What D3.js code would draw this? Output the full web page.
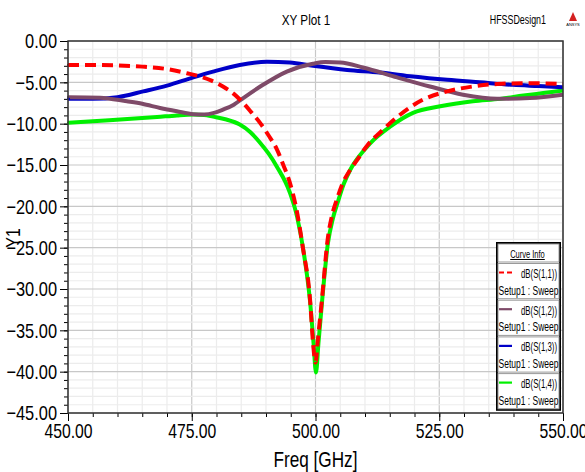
<!DOCTYPE html>
<html>
<head>
<meta charset="utf-8">
<script src="https://cdn.jsdelivr.net/npm/d3@7"></script>
<style>
  body { margin: 0; background: #fff; }
  #chart { width: 585px; height: 472px; }
  text { font-family: "Liberation Sans", Arial, sans-serif; }
</style>
</head>
<body>
<div id="chart"></div>
<script>
// frequencies (GHz) and dB values
const freq_s11 = [450, 455, 460, 465, 470, 474, 476.7, 479, 481.3, 483.5, 485.4, 487, 488.8, 490.5, 492.2, 493.5, 494.8, 496.2, 497.5, 498.9, 499.5, 500, 500.5, 501.3, 502.5, 503.3, 504.3, 505.5, 507, 508.4, 510.5, 513, 516.5, 521.7, 526.6, 531.8, 536.7, 543, 550];
const db_s11 = [-2.9, -2.9, -2.95, -3.1, -3.4, -3.9, -4.3, -4.8, -5.5, -6.4, -7.5, -8.6, -9.9, -11.4, -13.1, -15.0, -17.1, -20.5, -25.2, -31.3, -36.5, -38.9, -36, -31.3, -23.8, -21.2, -19.2, -17.2, -15.6, -14.4, -12.6, -11.1, -9.2, -7.1, -6.1, -5.5, -5.2, -5.1, -5.2];

const freq_s12 = [450, 456.5, 461.9, 465, 468.6, 472, 475.3, 477.5, 479.5, 481.3, 483.5, 485.4, 489.4, 494.2, 499.5, 502, 505, 509.6, 516.5, 523.1, 529.8, 536.7, 543.3, 550];
const db_s12 = [-6.8, -6.85, -7.3, -7.6, -8.1, -8.5, -8.85, -8.9, -8.7, -8.3, -7.7, -6.9, -5.3, -3.7, -2.75, -2.55, -2.6, -3.2, -4.4, -5.5, -6.5, -7.0, -6.9, -6.5];

const freq_s13 = [450, 455, 460, 465.2, 470, 475.3, 479.3, 484.7, 490.2, 494.8, 499.5, 506.4, 513, 519.7, 526.6, 533.2, 539.9, 545, 550];
const db_s13 = [-7.0, -7.0, -6.8, -6.1, -5.4, -4.4, -3.7, -2.9, -2.5, -2.6, -3.0, -3.5, -3.8, -4.3, -4.7, -5.0, -5.3, -5.45, -5.6];

const freq_s14 = [450, 455, 462, 468, 472, 475.3, 477.5, 479.3, 482, 484.7, 486.8, 488.8, 490.5, 492.2, 494.8, 496.3, 497.6, 498.9, 499.6, 500.1, 500.6, 501.4, 502.5, 503.5, 504.5, 505.7, 507, 509, 511, 515, 519.7, 525.2, 531.8, 537.3, 542, 546, 550];
const db_s14 = [-9.9, -9.7, -9.45, -9.2, -9.0, -8.9, -8.95, -9.15, -9.5, -10.1, -11.0, -12.3, -13.6, -15.2, -18.3, -21.3, -25.5, -31.5, -36.5, -40.1, -36.5, -31, -24.5, -21.5, -19.5, -17.3, -15.6, -13.8, -12.4, -10.4, -8.7, -7.9, -7.3, -7.0, -6.6, -6.3, -6.0];

const series_names = ["dB(S(1,1))", "dB(S(1,2))", "dB(S(1,3))", "dB(S(1,4))"];
const x_ticks = [450, 475, 500, 525, 550];
const y_ticks = [0, -5, -10, -15, -20, -25, -30, -35, -40, -45];

// HFSS uses a narrow font, squeeze the text horizontally
function squeeze(sel, k) {
    sel.each(function () {
        const L = this.getComputedTextLength();
        d3.select(this).attr("textLength", L * k).attr("lengthAdjust", "spacingAndGlyphs");
    });
}

class XYPlot {
    constructor(id) {
        this.div = id;
        this.series = [
            { name: series_names[0], x: freq_s11, y: db_s11, color: "#ff0000", dash: "11,6" },
            { name: series_names[1], x: freq_s12, y: db_s12, color: "#7e4a68", dash: null },
            { name: series_names[2], x: freq_s13, y: db_s13, color: "#0000c8", dash: null },
            { name: series_names[3], x: freq_s14, y: db_s14, color: "#00f000", dash: null }
        ];
    }

    add_svg() {
        const div = d3.select(`#${this.div}`);
        this.width = 585;
        this.height = 472;
        this.margin = { left: 68, right: 22, top: 41, bottom: 59 };
        this.innerW = this.width - this.margin.left - this.margin.right;
        this.innerH = this.height - this.margin.top - this.margin.bottom;
        this.svg = div.append("svg")
            .attr("width", this.width)
            .attr("height", this.height);
        this.ChartArea = this.svg.append("g")
            .attr("transform", `translate(${this.margin.left},${this.margin.top})`);
    }

    add_scale() {
        this.x = d3.scaleLinear().domain([450, 550]).range([0, this.innerW]);
        this.y = d3.scaleLinear().domain([-45, 0]).range([this.innerH, 0]);
    }

    add_grid() {
        const g = this.ChartArea.append("g");
        const xs = d3.range(450, 551, 5), ys = d3.range(-45, 1, 1);
        g.selectAll(".vg").data(xs).join("line")
            .attr("x1", d => this.x(d)).attr("x2", d => this.x(d))
            .attr("y1", 0).attr("y2", this.innerH)
            .attr("stroke", d => d % 25 === 0 ? "#c8c8c8" : "#ececec")
            .attr("stroke-width", 1.2);
        g.selectAll(".hg").data(ys).join("line")
            .attr("x1", 0).attr("x2", this.innerW)
            .attr("y1", d => this.y(d)).attr("y2", d => this.y(d))
            .attr("stroke", d => d % 5 === 0 ? "#c8c8c8" : "#ececec")
            .attr("stroke-width", 1.2);
    }

    add_axis() {
        // minor ticks
        this.ChartArea.append("g")
            .call(d3.axisLeft(this.y).tickValues(d3.range(-45, 1, 1)).tickSize(4).tickFormat(""))
            .call(g => g.select(".domain").remove());
        this.ChartArea.append("g")
            .attr("transform", `translate(0,${this.innerH})`)
            .call(d3.axisBottom(this.x).tickValues(d3.range(450, 551, 5)).tickSize(4).tickFormat(""))
            .call(g => g.select(".domain").remove());

        const ay = this.ChartArea.append("g")
            .call(d3.axisLeft(this.y).tickValues(y_ticks).tickSize(8).tickPadding(3).tickFormat(d3.format(".2f")));
        ay.selectAll("text").attr("font-size", "21px").attr("fill", "#000")
            .style("font-family", "'Liberation Sans', Arial, sans-serif").call(squeeze, 0.78);
        ay.select(".domain").remove();

        const ax = this.ChartArea.append("g")
            .attr("transform", `translate(0,${this.innerH})`)
            .call(d3.axisBottom(this.x).tickValues(x_ticks).tickSize(8).tickPadding(2).tickFormat(d3.format(".2f")));
        ax.selectAll("text").attr("font-size", "21px").attr("fill", "#000")
            .style("font-family", "'Liberation Sans', Arial, sans-serif").call(squeeze, 0.75);
        ax.select(".domain").remove();

        // small start markers on the left edge
        this.ChartArea.append("g").selectAll("line").data(this.series).join("line")
            .attr("x1", -1).attr("x2", 2)
            .attr("y1", d => this.y(d.y[0])).attr("y2", d => this.y(d.y[0]))
            .attr("stroke", d => d.color).attr("stroke-width", 2);

        // frame
        this.ChartArea.append("rect")
            .attr("width", this.innerW).attr("height", this.innerH)
            .attr("fill", "none").attr("stroke", "#333").attr("stroke-width", 1.5);
    }

    draw_chart() {
        const order = [3, 2, 1, 0];
        const line = d3.line().curve(d3.curveMonotoneX);
        const g = this.ChartArea.append("g");
        order.forEach(i => {
            const s = this.series[i];
            const pts = s.x.map((f, k) => [this.x(f), this.y(s.y[k])]);
            g.append("path")
                .attr("d", line(pts))
                .attr("fill", "none")
                .attr("stroke", s.color)
                .attr("stroke-width", 4)
                .attr("stroke-dasharray", s.dash);
        });
    }

    add_label() {
        this.svg.append("text")
            .attr("x", 306).attr("y", 25)
            .attr("text-anchor", "middle").attr("font-size", "15px")
            .text("XY Plot 1").call(squeeze, 0.78);
        this.svg.append("text")
            .attr("x", 546).attr("y", 24)
            .attr("text-anchor", "end").attr("font-size", "12px")
            .text("HFSSDesign1").call(squeeze, 0.74);
        // small logo
        this.svg.append("path")
            .attr("d", "M573,12 L577,21 L569,21 Z").attr("fill", "#d42020");
        this.svg.append("text")
            .attr("x", 573).attr("y", 26).attr("text-anchor", "middle")
            .attr("font-size", "4px").text("ANSYS");

        this.svg.append("text")
            .attr("transform", `translate(20,238) rotate(-90)`)
            .attr("text-anchor", "middle").attr("font-size", "20px")
            .text("Y1").call(squeeze, 0.8);
        this.svg.append("text")
            .attr("x", this.margin.left + this.x(500)).attr("y", 467)
            .attr("text-anchor", "middle").attr("font-size", "22px")
            .text("Freq [GHz]").call(squeeze, 0.78);
    }

    add_legend() {
        const lx = 497, ly = 243, lw = 63, hh = 19, eh = 36.7;
        const lg = this.svg.append("g").attr("transform", `translate(${lx},${ly})`);
        lg.append("rect").attr("width", lw).attr("height", hh + eh * 4 + 1)
            .attr("fill", "#fff").attr("stroke", "#000").attr("stroke-width", 2);
        lg.append("rect").attr("x", 1).attr("y", 1).attr("width", lw - 2).attr("height", hh - 1)
            .attr("fill", "none").attr("stroke", "#999");
        lg.append("text").attr("x", lw / 2 - 1).attr("y", 15)
            .attr("text-anchor", "middle").attr("font-size", "10px")
            .attr("text-decoration", "underline").text("Curve Info").call(squeeze, 0.75);
        this.series.forEach((s, i) => {
            const e = lg.append("g").attr("transform", `translate(0,${hh + 1 + i * eh})`);
            e.append("rect").attr("x", 1).attr("y", 0.5).attr("width", lw - 2).attr("height", eh - 1.5)
                .attr("fill", "none").attr("stroke", "#999");
            e.append("line").attr("x1", 2).attr("x2", 15).attr("y1", 9.5).attr("y2", 9.5)
                .attr("stroke", s.color).attr("stroke-width", 2.2)
                .attr("stroke-dasharray", s.dash ? "5,3" : null);
            e.append("text").attr("x", lw - 3).attr("y", 15)
                .attr("text-anchor", "end").attr("font-size", "13px")
                .attr("textLength", 36).attr("lengthAdjust", "spacingAndGlyphs")
                .text(s.name);
            e.append("text").attr("x", 1.5).attr("y", 31.5)
                .attr("font-size", "13px")
                .attr("textLength", 60).attr("lengthAdjust", "spacingAndGlyphs")
                .text("Setup1 : Sweep");
        });
    }

    render() {
        this.add_svg();
        this.add_scale();
        this.add_grid();
        this.draw_chart();
        this.add_axis();
        this.add_label();
        this.add_legend();
    }
}

new XYPlot("chart").render();
</script>
</body>
</html>
